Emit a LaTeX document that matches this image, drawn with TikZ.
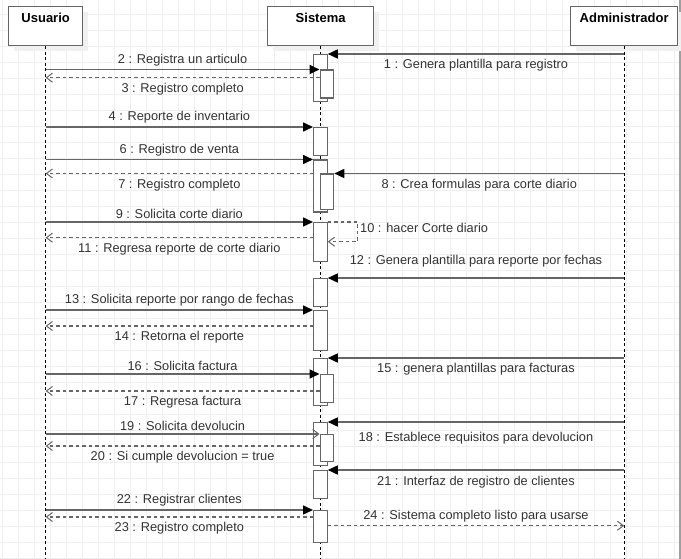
\documentclass[tikz,border=0pt]{standalone}
\usepackage{fontspec}
\setmainfont{Liberation Sans}
\usetikzlibrary{arrows.meta}
\definecolor{txt}{HTML}{333333}
\definecolor{wire}{HTML}{666666}
\definecolor{gridc}{HTML}{EFEFEF}
\tikzset{
  actor/.style={draw=wire, line width=1.3pt, fill=white, anchor=north west, inner sep=0pt,
    minimum height=39pt},
  lifeline/.style={black, line width=0.8pt, dash pattern=on 3pt off 2.5pt},
  act/.style={draw=wire, line width=1.3pt, fill=white, anchor=north west, inner sep=0pt,
    minimum width=13.5pt},
  call/.style={wire, line width=1.6pt, -{Triangle[length=10pt,width=9pt,black]}},
  callopen/.style={wire, line width=1.6pt, -{Straight Barb[length=6pt,width=9pt,line width=1pt]}},
  ret/.style={wire, line width=1.3pt, dash pattern=on 3.5pt off 3pt,
    -{Straight Barb[length=6pt,width=9pt,line width=1pt,sep=0pt]}},
  lab/.style={midway, font=\fontsize{12.8}{14}\selectfont, text=txt, inner sep=1pt},
  head/.style={font=\fontsize{13}{15}\bfseries\selectfont, text=black},
}
\begin{document}
\begin{tikzpicture}[x=1pt,y=-1pt]
\useasboundingbox (0,0) rectangle (681,559);
\fill[white] (0,0) rectangle (681,559);
% grid
\foreach \gx in {2.7,18.7,...,680} \draw[gridc, line width=0.8pt] (\gx,0) -- (\gx,559);
\foreach \gy in {14.3,30.3,...,559} \draw[gridc, line width=0.8pt] (0,\gy) -- (681,\gy);
\fill[gray!75] (678.5,0) rectangle (681,559);

% actors
\fill[black!6] (14,12) rectangle (88,51);
\fill[black!6] (273,12) rectangle (379,51);
\fill[black!6] (576,12) rectangle (681,51);
\node[actor, minimum width=74pt] (usr) at (8,6) {};
\node[actor, minimum width=106pt] (sis) at (267,6) {};
\node[actor, minimum width=107pt] (adm) at (570,6) {};
\node[head] at (usr.north |- 0,18) {Usuario};
\node[head] at (sis.north |- 0,18) {Sistema};
\node[head] at (adm.north |- 0,18) {Administrador};
\coordinate (u) at (usr.south);
\coordinate (s) at (sis.south);
\coordinate (a) at (adm.south);
\draw[lifeline] (u) -- (u |- 0,559);
\draw[lifeline] (s) -- (s |- 0,559);
\draw[lifeline] (a) -- (a |- 0,559);

% activations
\node[act, minimum height=47pt] (bA) at (313,54) {};
\node[act, minimum height=28pt] (bB) at (319.5,69.5) {};
\node[act, minimum height=28pt] (bC) at (313,127) {};
\node[act, minimum height=52pt] (bD) at (313,159.5) {};
\node[act, minimum height=35.5pt] (bE) at (319.5,173.5) {};
\node[act, minimum height=39pt] (bF) at (313,222) {};
\node[act, minimum height=28pt] (bG) at (313,278) {};
\node[act, minimum height=40pt] (bH) at (313,310) {};
\node[act, minimum height=46.5pt] (bI) at (313,358) {};
\node[act, minimum height=28pt] (bJ) at (319.5,374) {};
\node[act, minimum height=43pt] (bK) at (313,422) {};
\node[act, minimum height=27pt] (bL) at (319.5,434) {};
\node[act, minimum height=28pt] (bM) at (313,470) {};
\node[act, minimum height=32pt] (bN) at (313,510) {};

% messages
\draw[call] (a |- bA.north) -- (bA.north east) node[lab,below=3pt] (l1) {1 : Genera plantilla para registro};
\draw[call] (u |- bB.north) -- (bB.north west) node[lab,above=1.5pt] (l2) {2 : Registra un articulo};
\draw[ret] (bB.west |- 0,77.7) -- (u |- 0,77.7) node[lab,below=4pt] (l3) {3 : Registro completo};
\draw[call] (u |- bC.north) -- (bC.north west) node[lab,above=2pt] (l4) {4 : Reporte de inventario};
\draw[call] (u |- bD.north) -- (bD.north west) node[lab,above=2pt] (l6) {6 : Registro de venta};
\draw[ret] (bD.west |- bE.north) -- (u |- bE.north) node[lab,below=4pt] (l7) {7 : Registro completo};
\draw[call] (a |- bE.north) -- (bE.north east) node[lab,below=4pt] (l8) {8 : Crea formulas para corte diario};
\draw[call] (u |- bF.north) -- (bF.north west) node[lab,above=2pt] (l9) {9 : Solicita corte diario};
\draw[ret] (bF.north east) -- ++(30,0) -- ++(0,19.7) -- ++(-30,0);
\node[font=\fontsize{12.8}{14}\selectfont, text=txt, anchor=west, inner sep=1pt] (l10) at (359,228) {10 : hacer Corte diario};
\draw[ret] (bF.west |- 0,237.7) -- (u |- 0,237.7) node[lab,below=4pt] (l11) {11 : Regresa reporte de corte diario};
\draw[call] (a |- bG.north) -- (bG.north east) node[lab,above=9pt] (l12) {12 : Genera plantilla para reporte por fechas};
\draw[call] (u |- bH.north) -- (bH.north west) node[lab,above=2pt] (l13) {13 : Solicita reporte por rango de fechas};
\draw[ret] (bH.west |- 0,326) -- (u |- 0,326) node[lab,below=4pt] (l14) {14 : Retorna el reporte};
\draw[call] (a |- bI.north) -- (bI.north east) node[lab,below=3pt] (l15) {15 : genera plantillas para facturas};
\draw[call] (u |- bJ.north) -- (bJ.north west) node[lab,above=2pt] (l16) {16 : Solicita factura};
\draw[ret] (bJ.west |- 0,391) -- (u |- 0,391) node[lab,below=4pt] (l17) {17 : Regresa factura};
\draw[call] (a |- bK.north) -- (bK.north east) node[lab,below=8pt] (l18) {18 : Establece requisitos para devolucion};
\draw[callopen] (u |- bL.north) -- (bL.north west) node[lab,above=2pt] (l19) {19 : Solicita devolucin};
\draw[ret] (bL.west |- 0,446) -- (u |- 0,446) node[lab,below=4pt] (l20) {20 : Si cumple devolucion = true};
\draw[call] (a |- bM.north) -- (bM.north east) node[lab,below=4pt] (l21) {21 : Interfaz de registro de clientes};
\draw[call] (u |- bN.north) -- (bN.north west) node[lab,above=2pt] (l22) {22 : Registrar clientes};
\draw[ret] (bN.west |- 0,517) -- (u |- 0,517) node[lab,below=4pt] (l23) {23 : Registro completo};
\draw[ret] (bN.east |- 0,525.7) -- (a |- 0,525.7) node[lab,above=2pt] (l24) {24 : Sistema completo listo para usarse};
\end{tikzpicture}
\end{document}
